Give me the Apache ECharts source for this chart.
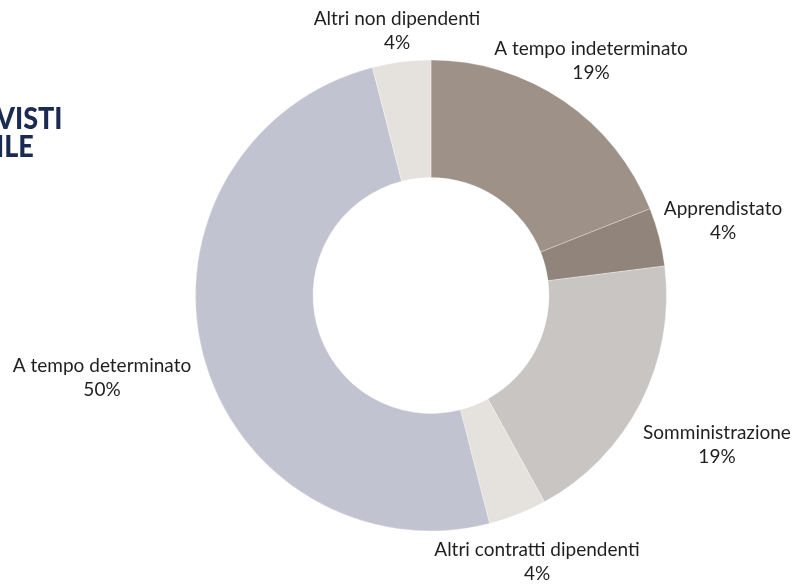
<!DOCTYPE html>
<html>
<head>
<meta charset="utf-8">
<style>
  html, body { margin: 0; padding: 0; background: #ffffff; }
  #chart { width: 793px; height: 584px; }
</style>
<script src="https://cdn.jsdelivr.net/npm/echarts@6/dist/echarts.min.js"></script>
</head>
<body>
<div id="chart"></div>
<script>
// ---- data ----
const categories = [
  'A tempo indeterminato',
  'Apprendistato',
  'Somministrazione',
  'Altri contratti dipendenti',
  'A tempo determinato',
  'Altri non dipendenti'
];
const values = [19, 4, 19, 4, 50, 4];
const titleLines = ['VISTI', 'ILE'];

// ---- styles / layout ----
const colors = ['#9e9188', '#91847a', '#c8c5c2', '#e5e2de', '#c2c3d0', '#e5e2de'];
// label block centres (layout only)
const labelAnchors = [
  [591, 61], [723, 221], [717, 445], [537, 562], [102, 378], [397, 31]
];

const chart = echarts.init(document.getElementById('chart'), null, { renderer: 'canvas' });

const option = {
  backgroundColor: '#ffffff',
  animation: false,
  graphic: [{
    type: 'text',
    x: -4,
    y: 106,
    scaleY: 1.12,
    style: {
      text: titleLines.join('\n'),
      font: '900 27px Lato',
      lineHeight: 24.5,
      fill: '#1b2a50'
    }
  }],
  series: [{
    type: 'pie',
    center: [431, 295.5],
    radius: [118, 235.5],
    startAngle: 90,
    clockwise: true,
    avoidLabelOverlap: false,
    data: categories.map((c, i) => ({
      name: c,
      value: values[i],
      itemStyle: { color: colors[i] }
    })),
    itemStyle: { borderColor: 'rgba(255,255,255,0.6)', borderWidth: 0.5 },
    label: {
      show: true,
      position: 'outside',
      formatter: p => p.name + '\n' + p.value + '%',
      fontFamily: 'Lato',
      fontSize: 19,
      lineHeight: 24,
      color: '#1f1f1f',
      align: 'center'
    },
    labelLine: { show: false },
    labelLayout: function (params) {
      const a = labelAnchors[params.dataIndex];
      return { x: a[0], y: a[1], align: 'center', verticalAlign: 'middle' };
    },
    emphasis: { disabled: true }
  }]
};
chart.setOption(option);
</script>
</body>
</html>
